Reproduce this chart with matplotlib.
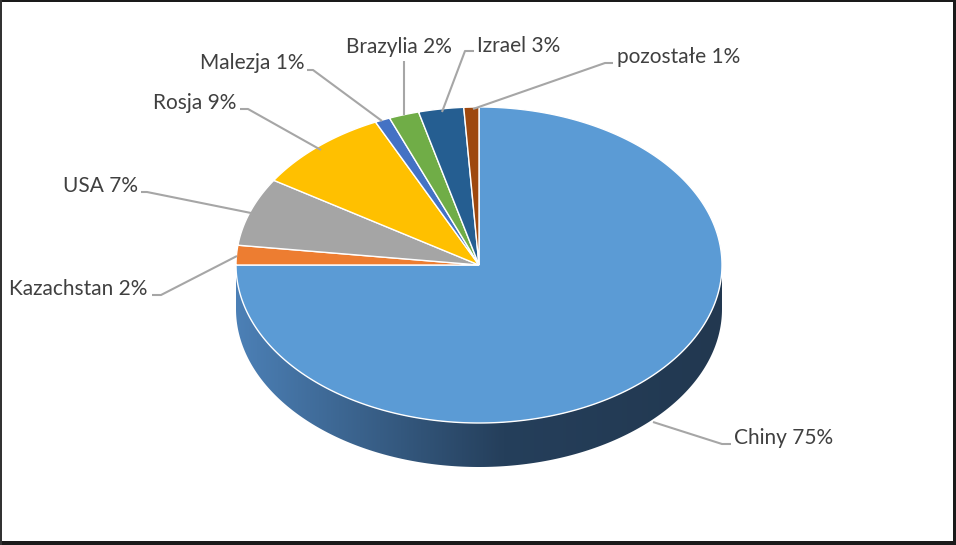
import numpy as np
import matplotlib as mpl
from matplotlib import pyplot as plt
from matplotlib.patches import Polygon, Rectangle

mpl.rcParams.update({"font.family": ["Lato", "DejaVu Sans"]})

# data (clockwise from 12 o'clock)
countries = ["Chiny", "Kazachstan", "USA", "Rosja", "Malezja", "Brazylia", "Izrael", "pozostałe"]
shares = [75, 2, 7, 9, 1, 2, 3, 1]
colors = ["#5B9BD5", "#ED7D31", "#A5A5A5", "#FFC000", "#4472C4", "#70AD47", "#255E91", "#9E480E"]

# label text positions (pixels) and leader line elbows
label_xy = [(734, 438), (147, 289), (138, 186), (236, 103), (305, 63), (452, 47), (477, 46), (617, 57)]
label_ha = ["left", "right", "right", "right", "right", "right", "left", "left"]
leader = [
    [(653, 422), (722, 444), (731, 444)],
    [(237, 256), (161, 295), (152, 295)],
    [(251, 213), (147, 192), (141, 192)],
    [(321, 150), (248, 109), (240, 109)],
    [(382, 121), (313, 70), (307, 70)],
    [(404, 115), (404, 61)],
    [(442, 112), (465, 51), (474, 51)],
    [(473, 109), (605, 63), (613, 63)],
]

W, H = 956, 545
cx, cy, rx, ry, depth = 479, 265, 243, 158, 44

fig = plt.figure(figsize=(W / 100, H / 100), dpi=100)
ax = fig.add_axes([0, 0, 1, 1])
ax.set_xlim(0, W)
ax.set_ylim(H, 0)
ax.axis("off")


def ell(t, dy=0):
    return np.column_stack([cx + rx * np.cos(t), cy - ry * np.sin(t) + dy])


# side wall (front half) with horizontal gradient
t = np.linspace(np.pi, 2 * np.pi, 200)
side = np.vstack([ell(t), ell(t[::-1], depth)])
side_patch = Polygon(side, closed=True, facecolor="none", edgecolor="none")
ax.add_patch(side_patch)
grad = np.linspace(0, 1, 256)
cmap = mpl.colors.LinearSegmentedColormap.from_list(
    "side", [(0, "#4C80B6"), (0.55, "#253F5B"), (1, "#223850")])
img = ax.imshow(grad[None, :], cmap=cmap, aspect="auto",
                extent=[cx - rx, cx + rx, cy + ry + depth, cy], zorder=1)
img.set_clip_path(side_patch)

# top face
frac = np.array(shares, dtype=float) / sum(shares)
bounds = np.radians(90 - 360 * np.concatenate([[0], np.cumsum(frac)]))
for i, c in enumerate(colors):
    tt = np.linspace(bounds[i], bounds[i + 1], 300)
    pts = np.vstack([[cx, cy], ell(tt)])
    ax.add_patch(Polygon(pts, closed=True, facecolor=c, edgecolor="white",
                         linewidth=1.0, zorder=2))

# labels and leader lines
for i, name in enumerate(countries):
    xs, ys = zip(*leader[i])
    ax.plot(xs, ys, color="#A6A6A6", lw=1.5, zorder=3, solid_capstyle="butt")
    ax.text(label_xy[i][0], label_xy[i][1], f"{name} {shares[i]}%", ha=label_ha[i],
            va="center", fontsize=15, color="#404040", zorder=4)

# frame
fig.patches.append(Rectangle((0, 0), 1, 1, transform=fig.transFigure, fill=False,
                             edgecolor="#D9D9D9", lw=2, zorder=10))
fig.patches.append(Rectangle((0, 0), 1, 4 / H, transform=fig.transFigure,
                             facecolor="#1A1A1A", edgecolor="none", zorder=11))
fig.patches.append(Rectangle((1 - 3 / W, 0), 3 / W, 1, transform=fig.transFigure,
                             facecolor="#1A1A1A", edgecolor="none", zorder=11))
fig.patches.append(Rectangle((0, 1 - 2 / H), 1, 2 / H, transform=fig.transFigure,
                             facecolor="#1A1A1A", edgecolor="none", zorder=11))
fig.patches.append(Rectangle((0, 0), 2 / W, 1, transform=fig.transFigure,
                             facecolor="#333333", edgecolor="none", zorder=11))

fig.savefig("out.png", dpi=100)
